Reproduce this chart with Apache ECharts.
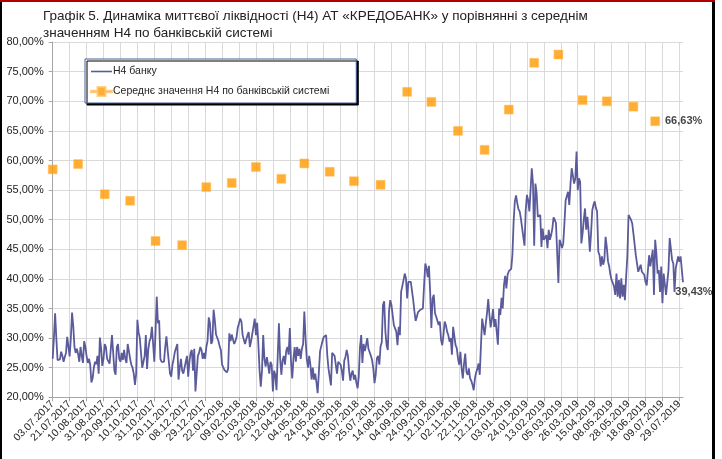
<!DOCTYPE html>
<html>
<head>
<meta charset="utf-8">
<title>Графік 5</title>
<script src="https://cdn.jsdelivr.net/npm/echarts@6/dist/echarts.min.js"></script>
<style>
  html, body { margin: 0; padding: 0; background: #fff; }
  #chart { width: 722px; height: 459px; }
</style>
</head>
<body>
<div id="chart"></div>
<script>
// x axis labels, one every 14 business days
const tickLabels = [
  '03.07.2017', '21.07.2017', '10.08.2017', '31.08.2017', '20.09.2017', '10.10.2017',
  '31.10.2017', '20.11.2017', '08.12.2017', '29.12.2017', '22.01.2018', '09.02.2018',
  '01.03.2018', '22.03.2018', '12.04.2018', '04.05.2018', '24.05.2018', '14.06.2018',
  '05.07.2018', '25.07.2018', '14.08.2018', '04.09.2018', '24.09.2018', '12.10.2018',
  '02.11.2018', '22.11.2018', '12.12.2018', '03.01.2019', '24.01.2019', '13.02.2019',
  '05.03.2019', '26.03.2019', '15.04.2019', '08.05.2019', '28.05.2019', '18.06.2019',
  '09.07.2019', '29.07.2019'
]
const labelStep = 14

// daily H4 of the bank, %
const h4Bank = [
  26.5, 30.0, 34.2, 30.0, 26.3, 26.0, 26.4, 27.7, 27.0, 26.0, 26.8, 27.5, 30.2, 30.5,
  26.9, 30.0, 34.3, 32.0, 28.5, 27.5, 28.2, 27.3, 26.0, 28.5, 27.0, 25.8, 29.5, 28.5,
  27.0, 25.8, 26.5, 25.5, 22.5, 23.2, 25.0, 26.0, 25.6, 27.0, 24.0, 30.1, 28.3, 25.3,
  26.5, 29.0, 28.5, 26.5, 26.3, 25.7, 26.0, 30.5, 27.5, 24.5, 23.8, 28.5, 29.0, 26.5,
  26.0, 27.5, 26.3, 28.0, 26.5, 25.8, 29.0, 27.8, 26.5, 25.5, 25.0, 24.0, 22.1, 24.0,
  33.1, 31.0, 30.0, 27.5, 25.0, 25.2, 27.0, 30.5, 24.8, 28.0, 29.5, 30.0, 31.9, 29.0,
  26.0, 31.0, 37.0, 32.5, 33.0, 26.5, 26.0, 26.2, 26.0, 28.5, 30.3, 28.0, 26.0, 24.0,
  23.5, 25.5, 26.5, 27.7, 28.0, 29.0, 23.0, 25.0, 26.5, 24.5, 24.0, 25.0, 26.0, 27.0,
  23.5, 26.0, 27.5, 28.0, 24.5, 28.2, 21.0, 24.0, 27.0, 27.5, 28.5, 28.0, 26.5, 27.5,
  26.5, 28.5, 29.5, 33.5, 32.5, 29.0, 29.5, 34.8, 33.0, 30.6, 30.5, 29.5, 28.6, 28.0,
  25.5, 25.2, 24.6, 24.3, 24.2, 24.8, 30.8, 29.5, 30.6, 29.8, 29.0, 29.5, 30.2, 31.8,
  32.5, 33.3, 32.8, 30.5, 29.7, 29.0, 29.8, 30.5, 31.0, 28.5, 29.5, 29.8, 32.0, 33.3,
  30.5, 32.6, 29.0, 24.5, 21.8, 24.5, 30.5, 26.5, 25.2, 26.8, 25.5, 24.0, 26.0, 25.5,
  21.0, 24.5, 23.8, 21.2, 27.0, 32.5, 26.5, 23.8, 26.2, 27.0, 25.5, 27.8, 28.5, 27.2,
  31.7, 26.0, 23.2, 26.5, 28.5, 26.0, 28.5, 27.0, 28.2, 26.5, 28.2, 29.0, 34.5, 30.0,
  26.5, 25.0, 27.0, 25.5, 23.0, 25.0, 23.0, 24.0, 22.5, 20.7, 24.2, 27.8, 28.0, 29.5,
  30.2, 30.0, 30.5, 27.0, 24.8, 24.5, 22.0, 27.5, 27.8, 27.0, 25.5, 24.0, 26.0, 25.8,
  25.5, 24.5, 22.8, 26.2, 26.8, 28.0, 27.0, 24.5, 22.8, 24.0, 24.5, 23.0, 23.8, 22.5,
  21.5, 23.5, 28.5, 30.5, 25.8, 29.0, 27.8, 28.8, 30.0, 28.2, 27.6, 27.0, 26.3, 24.9,
  22.4, 23.8, 26.6, 27.0, 25.5, 28.6, 29.3, 35.6, 36.2, 31.1, 28.8, 28.0, 34.5, 36.4,
  35.6, 35.6, 32.2, 32.1, 31.1, 28.8, 31.9, 30.5, 37.8, 37.8, 39.8, 40.9, 40.1, 36.7,
  39.5, 39.8, 39.5, 39.4, 36.4, 34.5, 32.9, 33.6, 34.4, 34.6, 34.8, 34.8, 35.0, 39.0,
  42.6, 41.8, 40.3, 42.2, 37.8, 31.7, 36.7, 37.3, 34.2, 33.6, 33.4, 32.2, 32.8, 29.7,
  28.8, 30.5, 32.8, 32.2, 31.1, 30.5, 29.4, 30.0, 27.2, 31.9, 31.7, 28.8, 28.3, 26.6,
  25.5, 27.7, 24.9, 23.2, 25.7, 27.4, 24.3, 23.8, 24.9, 23.2, 22.8, 22.1, 21.2, 23.2,
  24.2, 24.8, 25.7, 23.8, 28.8, 33.3, 33.6, 30.5, 32.5, 34.2, 36.6, 33.9, 31.8, 33.2,
  34.9, 31.9, 33.2, 31.1, 28.9, 35.0, 33.9, 36.8, 35.0, 38.9, 40.5, 38.4, 40.7, 41.3,
  41.5, 41.7, 44.1, 49.7, 53.1, 54.1, 52.8, 51.8, 51.4, 50.2, 50.0, 47.1, 45.6, 51.6,
  54.2, 53.3, 51.4, 55.0, 58.7, 56.1, 45.6, 56.1, 54.5, 50.5, 50.5, 50.8, 45.4, 48.5,
  46.6, 46.8, 47.4, 45.2, 48.3, 46.6, 47.4, 48.5, 50.4, 50.0, 49.4, 49.7, 39.3, 46.6,
  46.0, 45.2, 46.0, 49.4, 53.3, 53.6, 54.7, 52.5, 56.0, 58.7, 58.4, 56.1, 57.0, 61.5,
  55.0, 57.0, 56.4, 46.0, 47.7, 50.0, 51.9, 48.3, 50.5, 48.0, 44.6, 47.7, 51.6, 52.5,
  53.1, 52.0, 51.4, 44.6, 44.0, 42.1, 43.8, 42.4, 43.2, 47.1, 45.4, 43.0, 42.1, 40.7,
  39.8, 39.3, 38.7, 37.3, 40.9, 37.0, 39.8, 36.7, 40.1, 37.0, 39.0, 36.4, 40.4, 43.8,
  50.8, 50.5, 50.0, 49.4, 47.7, 47.7, 44.0, 42.6, 41.2, 40.9, 42.4, 41.2, 40.9, 40.7,
  39.5, 38.9, 39.2, 44.0, 42.1, 42.1, 44.9, 37.3, 46.6, 44.3, 40.9, 41.5, 37.8, 42.1,
  35.9, 40.9, 40.9, 37.3, 37.6, 41.5, 46.9, 47.1, 43.2, 42.6, 37.8, 41.8, 41.8, 43.8,
  42.9, 43.8, 43.5, 39.43
]

// monthly average H4 of the banking system, placed on first business day of month
const avgDayIdx = [0, 21, 43, 64, 85, 107, 127, 148, 168, 189, 208, 229, 249, 271, 293, 313, 335, 357, 377, 398, 418, 438, 458, 480, 498]
const avgH4 = [58.5, 59.4, 54.3, 53.2, 46.4, 45.7, 55.5, 56.2, 58.9, 56.9, 59.5, 58.1, 56.5, 55.9, 71.6, 69.9, 65.0, 61.8, 68.6, 76.5, 77.9, 70.2, 70.0, 69.1, 66.63]

const seriesNames = ['Н4 банку', 'Середнє значення Н4 по банківській системі']

const fmtPct = v => v.toFixed(2).replace('.', ',') + '%'
const font = 'Liberation Sans'

const chart = echarts.init(document.getElementById('chart'))

const days = h4Bank.map((v, i) => String(i))
const lastBank = h4Bank.length - 1

chart.setOption({
  animation: false,
  textStyle: { fontFamily: font },
  title: {
    text: 'Графік 5. Динаміка миттєвої ліквідності (Н4) АТ «КРЕДОБАНК» у порівнянні з середнім\nзначенням Н4 по банківській системі',
    left: 38,
    top: 3,
    textStyle: { fontSize: 13.5, fontWeight: 'normal', color: '#222', lineHeight: 17, fontFamily: font }
  },
  legend: {
    orient: 'vertical',
    left: 85,
    top: 59,
    padding: [7, 27, 6, 5],
    itemGap: 9,
    itemWidth: 21,
    itemHeight: 9,
    backgroundColor: '#fff',
    borderColor: '#41619a',
    borderWidth: 1,
    shadowColor: '#000',
    shadowBlur: 0,
    shadowOffsetX: 2,
    shadowOffsetY: 2,
    textStyle: { fontSize: 10.5, color: '#222', fontFamily: font, padding: [0, 0, 0, -4] },
    data: [
      { name: seriesNames[0], icon: 'path://M0,4 L21,4 L21,5.6 L0,5.6 Z' },
      { name: seriesNames[1], icon: 'path://M0,3.7 L6.5,3.7 L6.5,0 L14.5,0 L14.5,3.7 L21,3.7 L21,5.3 L14.5,5.3 L14.5,9 L6.5,9 L6.5,5.3 L0,5.3 Z' }
    ]
  },
  grid: {
    left: 52.7,
    right: 39,
    top: 42.1,
    bottom: 61.7,
    containLabel: false
  },
  xAxis: {
    type: 'category',
    data: days,
    boundaryGap: false,
    axisLine: { lineStyle: { color: '#a6a6a6' } },
    axisTick: { interval: labelStep - 1, length: 4, lineStyle: { color: '#a6a6a6' } },
    splitLine: { show: true, interval: labelStep - 1, lineStyle: { color: '#d9d9d9' } },
    axisLabel: {
      interval: labelStep - 1,
      rotate: 45,
      fontSize: 10.5,
      color: '#222',
      margin: 5,
      formatter: (v, i) => tickLabels[i / labelStep] || ''
    }
  },
  yAxis: {
    type: 'value',
    min: 20,
    max: 80,
    interval: 5,
    axisLine: { show: true, lineStyle: { color: '#a6a6a6' } },
    axisTick: { show: true, length: 4, lineStyle: { color: '#a6a6a6' } },
    splitLine: { lineStyle: { color: '#d9d9d9' } },
    axisLabel: { fontSize: 11, color: '#222', margin: 9, formatter: fmtPct }
  },
  series: [{
    name: seriesNames[0],
    type: 'line',
    data: h4Bank,
    showSymbol: false,
    symbol: 'none',
    color: '#5b5b9c',
    lineStyle: { width: 1.8, color: '#5b5b9c' },
    z: 2
  }, {
    // end value label of the bank line
    name: 'lastBank',
    type: 'scatter',
    data: [{
      value: [lastBank, h4Bank[lastBank]],
      label: {
        show: true,
        position: 'bottom',
        distance: 4,
        offset: [11, 0],
        formatter: p => fmtPct(p.value[1]),
        fontSize: 11,
        fontWeight: 'bold',
        color: '#111'
      }
    }],
    symbol: 'circle',
    symbolSize: 1,
    itemStyle: { color: 'rgba(0,0,0,0)' },
    silent: true,
    z: 4
  }, {
    name: seriesNames[1],
    type: 'scatter',
    data: avgH4.map((v, i) => i === avgH4.length - 1 ? {
      value: [avgDayIdx[i], v],
      label: {
        show: true,
        position: 'right',
        distance: 5,
        formatter: p => fmtPct(p.value[1]),
        fontSize: 11,
        fontWeight: 'bold',
        color: '#111'
      }
    } : [avgDayIdx[i], v]),
    symbol: 'rect',
    symbolSize: 9,
    color: '#ff9a00',
    itemStyle: { color: '#ff9a00', borderColor: '#ffc46b', borderWidth: 0.6 },
    z: 3
  }],
  graphic: [
    { type: 'rect', shape: { x: 0, y: 0, width: 2, height: 459 }, style: { fill: '#000' } },
    { type: 'rect', shape: { x: 712, y: 0, width: 3, height: 459 }, style: { fill: '#000' } },
    { type: 'rect', shape: { x: 0, y: 0, width: 715, height: 2 }, style: { fill: '#b00000' } }
  ]
})
</script>
</body>
</html>
